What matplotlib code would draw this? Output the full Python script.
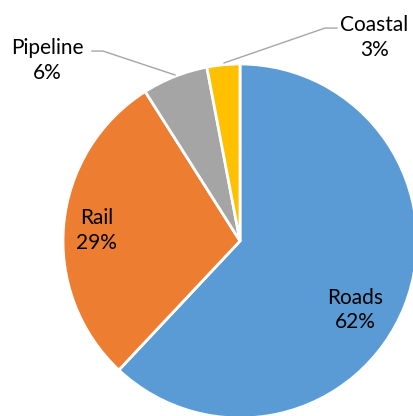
import matplotlib.pyplot as plt

# datos del grafico
categorias = ["Roads", "Rail", "Pipeline", "Coastal"]
porcentajes = [62, 29, 6, 3]
colores = ["#5B9BD5", "#ED7D31", "#A5A5A5", "#FFC000"]

# posicion de cada etiqueta (unidades del radio)
pos_etiquetas = [(0.65, -0.39), (-0.81, 0.06), (-1.09, 1.02), (0.76, 1.15)]

fig = plt.figure(figsize=(4.14, 4.16), dpi=100)
ax = fig.add_axes([0, 0, 1, 1])

ax.pie(porcentajes, colors=colores, startangle=90, counterclock=False,
       wedgeprops=dict(edgecolor="white", linewidth=2.0))

for nombre, valor, (x, y) in zip(categorias, porcentajes, pos_etiquetas):
  ax.text(x, y, f"{nombre}\n{valor}%", ha="center", va="center",
          fontsize=15, family="Lato", color="#000000", linespacing=1.3)

# lineas guia para las etiquetas de afuera
ax.plot([-0.836, -0.774, -0.367], [1.073, 1.073, 0.938], color="#a6a6a6", lw=1.0)
ax.plot([-0.09, 0.48, 0.548], [1.006, 1.203, 1.203], color="#a6a6a6", lw=1.0)

r = 177
ax.set_xlim(-240 / r, (414 - 240) / r)
ax.set_ylim(-(416 - 241) / r, 241 / r)
ax.axis("off")

fig.savefig("out.png", dpi=100)
